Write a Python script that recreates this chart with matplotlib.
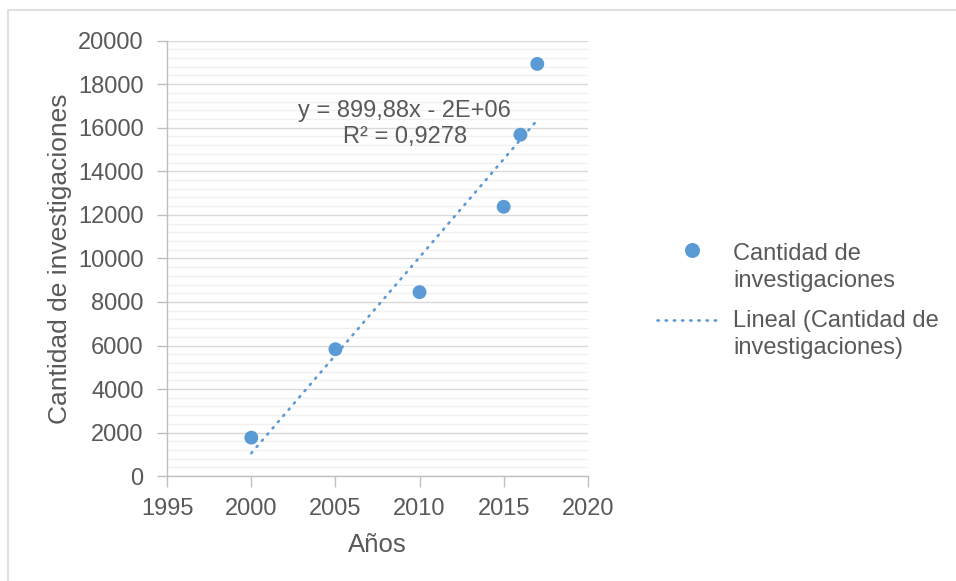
import numpy as np
import matplotlib
matplotlib.use("Agg")
import matplotlib.pyplot as plt
from matplotlib.lines import Line2D
from matplotlib.patches import Rectangle
from matplotlib.ticker import MultipleLocator

plt.rcParams['font.family'] = ['Liberation Sans', 'DejaVu Sans']

# Research counts per year
years = [2000, 2005, 2010, 2015, 2016, 2017]
counts = [1770, 5830, 8450, 12370, 15680, 18930]

series_label = "Cantidad de\ninvestigaciones"
trend_label = "Lineal (Cantidad de\ninvestigaciones)"
x_title = "Años"
y_title = "Cantidad de investigaciones"
equation_text = "y = 899,88x - 2E+06\nR² = 0,9278"

x_ticks = [1995, 2000, 2005, 2010, 2015, 2020]
y_ticks = [0, 2000, 4000, 6000, 8000, 10000, 12000, 14000, 16000, 18000, 20000]

blue = "#5B9BD5"
text_grey = "#595959"
dotted = (0, (0.5, 2.6))

W, H = 956, 581
fig = plt.figure(figsize=(W / 100, H / 100), dpi=100)
ax = fig.add_axes([0.1749, 0.1804, 0.4399, 0.7497])


def fx(px):
    return px / W


def fy(py):
    return 1 - py / H


# Outer chart-area border
fig.patches.append(Rectangle((fx(7.5), -0.05), 1.1, fy(10.5) + 0.05,
                             transform=fig.transFigure, fill=False,
                             edgecolor="#D9D9D9", linewidth=1.2))

# Linear trendline fitted on the data
coef = np.polyfit(years, counts, 1)
xt = np.array([min(years), max(years)])
ax.plot(xt, np.polyval(coef, xt), color=blue, linewidth=1.9,
        linestyle=dotted, dash_capstyle='round', zorder=3)

ax.scatter(years, counts, s=100, color=blue, edgecolors='none', zorder=4)

ax.set_xlim(1995, 2020)
ax.set_ylim(0, 20000)
ax.set_xticks(x_ticks)
ax.set_yticks(y_ticks)
ax.yaxis.set_minor_locator(MultipleLocator(400))

ax.grid(axis='y', which='major', color="#D9D9D9", linewidth=1.0)
ax.grid(axis='y', which='minor', color="#F0F0F0", linewidth=1.0)
ax.set_axisbelow(True)

for side in ("top", "right"):
    ax.spines[side].set_visible(False)
for side in ("left", "bottom"):
    ax.spines[side].set_color("#BFBFBF")
    ax.spines[side].set_linewidth(1.0)

ax.tick_params(axis='both', which='major', width=1.0,
               color="#BFBFBF", labelcolor=text_grey, labelsize=17)
ax.tick_params(axis='y', which='minor', length=0)
ax.tick_params(axis='y', which='major', length=7, pad=10)
ax.tick_params(axis='x', which='major', length=8, pad=8)

ax.set_xlabel(x_title, fontsize=18.5, color=text_grey)
ax.set_ylabel(y_title, fontsize=19, color=text_grey)
ax.xaxis.set_label_coords(0.5, -0.131)
ax.yaxis.set_label_coords(-0.226, 0.5)

# Trendline equation (va='baseline' pins the last line's baseline)
fig.text(fx(404.8), fy(143.5), equation_text, ha='center', va='baseline',
         multialignment='center', fontsize=17, color=text_grey,
         linespacing=1.28)

# Legend: handles aligned with the first line of each label
fig.add_artist(Line2D([fx(692)], [fy(250.5)], transform=fig.transFigure,
                      linestyle='none', marker='o', markersize=10.8,
                      markerfacecolor=blue, markeredgecolor='none'))
fig.text(fx(733), fy(286.5), series_label, ha='left', va='baseline',
         fontsize=17, color=text_grey, linespacing=1.28)

fig.add_artist(Line2D([fx(657), fx(721)], [fy(320), fy(320)],
                      transform=fig.transFigure, color=blue, linewidth=1.9,
                      linestyle=dotted, dash_capstyle='round'))
fig.text(fx(733), fy(354), trend_label, ha='left', va='baseline',
         fontsize=17, color=text_grey, linespacing=1.28)

fig.savefig("out.png", dpi=100)
